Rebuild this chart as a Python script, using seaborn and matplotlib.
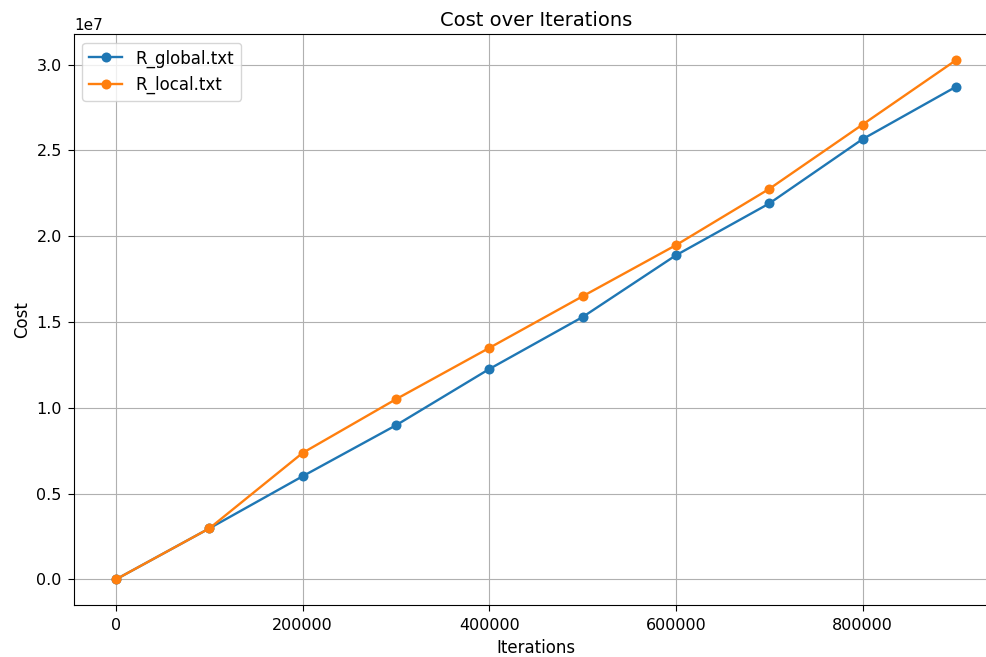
import matplotlib

matplotlib.use("Agg")
import matplotlib.pyplot as plt
import numpy as np
import pandas as pd
import seaborn as sns

iterations = [0, 100000, 200000, 300000, 400000, 500000, 600000, 700000, 800000, 900000]
cost_global = [0.0, 2.97e6, 6.01e6, 8.98e6, 12.26e6, 15.29e6, 18.89e6, 21.91e6, 25.66e6, 28.71e6]
cost_local = [0.0, 2.97e6, 7.37e6, 10.50e6, 13.49e6, 16.50e6, 19.48e6, 22.76e6, 26.51e6, 30.26e6]
series_names = ["R_global.txt", "R_local.txt"]
series_colors = ["#1f77b4", "#ff7f0e"]

df = pd.DataFrame({"Iterations": iterations, "R_global.txt": cost_global, "R_local.txt": cost_local})

plt.rcParams.update({
    "xtick.labelsize": 11.5,
    "ytick.labelsize": 11.5,
    "xtick.major.size": 4.2,
    "ytick.major.size": 4.2,
    "xtick.major.pad": 5,
    "ytick.major.pad": 4.6,
})

fig = plt.figure(figsize=(9.87, 6.57), dpi=100)
# original image was cropped on the right, so the axes run past the figure edge
ax = fig.add_axes([0.075, 0.0787, 0.936, 0.8691])

for name, color in zip(series_names, series_colors):
    sns.lineplot(
        data=df,
        x="Iterations",
        y=name,
        label=name,
        color=color,
        marker="o",
        markersize=7.2,
        markeredgewidth=0,
        linewidth=1.7,
        ax=ax,
    )

ax.set_title("Cost over Iterations", fontsize=14)
ax.set_xlabel("Iterations", fontsize=12)
ax.set_ylabel("Cost", fontsize=12)
ax.yaxis.get_offset_text().set_fontsize(11)
ax.grid(True)
ax.legend(loc="upper left", fontsize=12)

fig.savefig("out.png", dpi=100)
plt.close(fig)
